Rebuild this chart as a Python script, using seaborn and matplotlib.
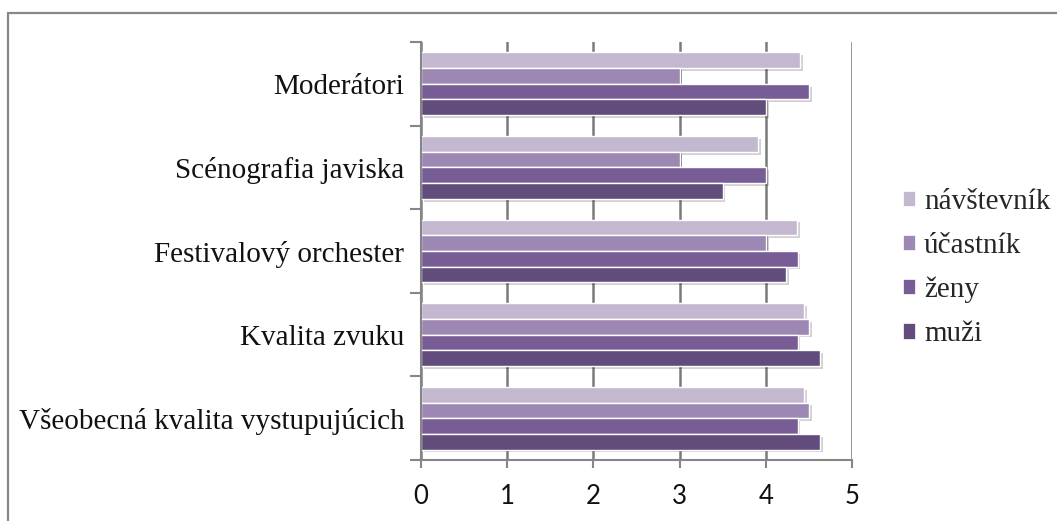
import matplotlib
matplotlib.use("Agg")
import matplotlib.pyplot as plt
import matplotlib.patheffects as pe
from matplotlib.patches import Rectangle, Patch
import seaborn as sns
import pandas as pd

categories = ["Moderátori", "Scénografia javiska", "Festivalový orchester",
              "Kvalita zvuku", "Všeobecná kvalita vystupujúcich"]
series = ["návštevník", "účastník", "ženy", "muži"]
navstevnik = [4.4, 3.91, 4.36, 4.44, 4.44]
ucastnik = [3.0, 3.0, 4.0, 4.5, 4.5]
zeny = [4.5, 4.0, 4.37, 4.37, 4.37]
muzi = [4.0, 3.5, 4.24, 4.63, 4.63]
x_ticks = [0, 1, 2, 3, 4, 5]
colors = ["#C3B8D0", "#9D88B3", "#775C96", "#624C7C"]

values = {"návštevník": navstevnik, "účastník": ucastnik, "ženy": zeny, "muži": muzi}
rows = []
for s in series:
    for c, v in zip(categories, values[s]):
        rows.append({"kategoria": c, "skupina": s, "hodnota": v})
df = pd.DataFrame(rows)

sns.set_theme(style="white")
plt.rcParams["font.family"] = ["Liberation Serif", "DejaVu Serif"]

fig = plt.figure(figsize=(10.57, 5.21), dpi=100)
ax = fig.add_axes([421 / 1057, 1 - 460 / 521, (852 - 421) / 1057, (460 - 42) / 521])

sns.barplot(data=df, y="kategoria", x="hodnota", hue="skupina", order=categories,
            hue_order=series, palette=colors, saturation=1, width=0.75,
            edgecolor="white", linewidth=1.0, orient="h", ax=ax, legend=False)

for p in ax.patches:
    p.set_path_effects([pe.SimplePatchShadow(offset=(2, -2), shadow_rgbFace="#000000", alpha=0.18),
                        pe.Normal()])

ax.set_xlim(0, 5)
ax.set_ylim(4.5, -0.5)
ax.set_xlabel("")
ax.set_ylabel("")
ax.set_axisbelow(True)
ax.set_xticks(x_ticks)
ax.set_xticklabels([str(t) for t in x_ticks], family=["Lato", "DejaVu Sans"], fontsize=18.5)
ax.xaxis.grid(True, color="#7a7a7a", linewidth=1.8)
ax.yaxis.grid(False)
for s in ["top", "right"]:
    ax.spines[s].set_visible(False)
for s in ["left", "bottom"]:
    ax.spines[s].set_color("#868686")
    ax.spines[s].set_linewidth(1.5)

ax.set_yticks(range(len(categories)))
ax.set_yticklabels(categories, fontsize=21, color="#111111")
ax.set_yticks([i - 0.5 for i in range(len(categories) + 1)], minor=True)
ax.tick_params(axis="y", which="major", length=0, pad=12)
ax.tick_params(axis="y", which="minor", length=8, width=1.5, color="#868686", direction="out", left=True)
ax.tick_params(axis="x", which="major", length=6, width=1.5, color="#868686", direction="out",
               bottom=True, pad=11, labelcolor="#111111")

handles = [Patch(facecolor=c, edgecolor="white", linewidth=0.5) for c in colors]
fig.legend(handles, series, loc="center left", bbox_to_anchor=(903 / 1057, 1 - 268 / 521),
           bbox_transform=fig.transFigure, frameon=False, fontsize=21,
           handlelength=0.42, handleheight=0.42, handletextpad=0.3, labelspacing=0.62,
           borderpad=0, borderaxespad=0)

fig.patches.append(Rectangle((8 / 1057, -0.02), 1.05, 1 - 13 / 521 + 0.02,
                             transform=fig.transFigure, fill=False,
                             edgecolor="#888888", linewidth=1.6))

fig.savefig("out.png", dpi=100, facecolor="white")
